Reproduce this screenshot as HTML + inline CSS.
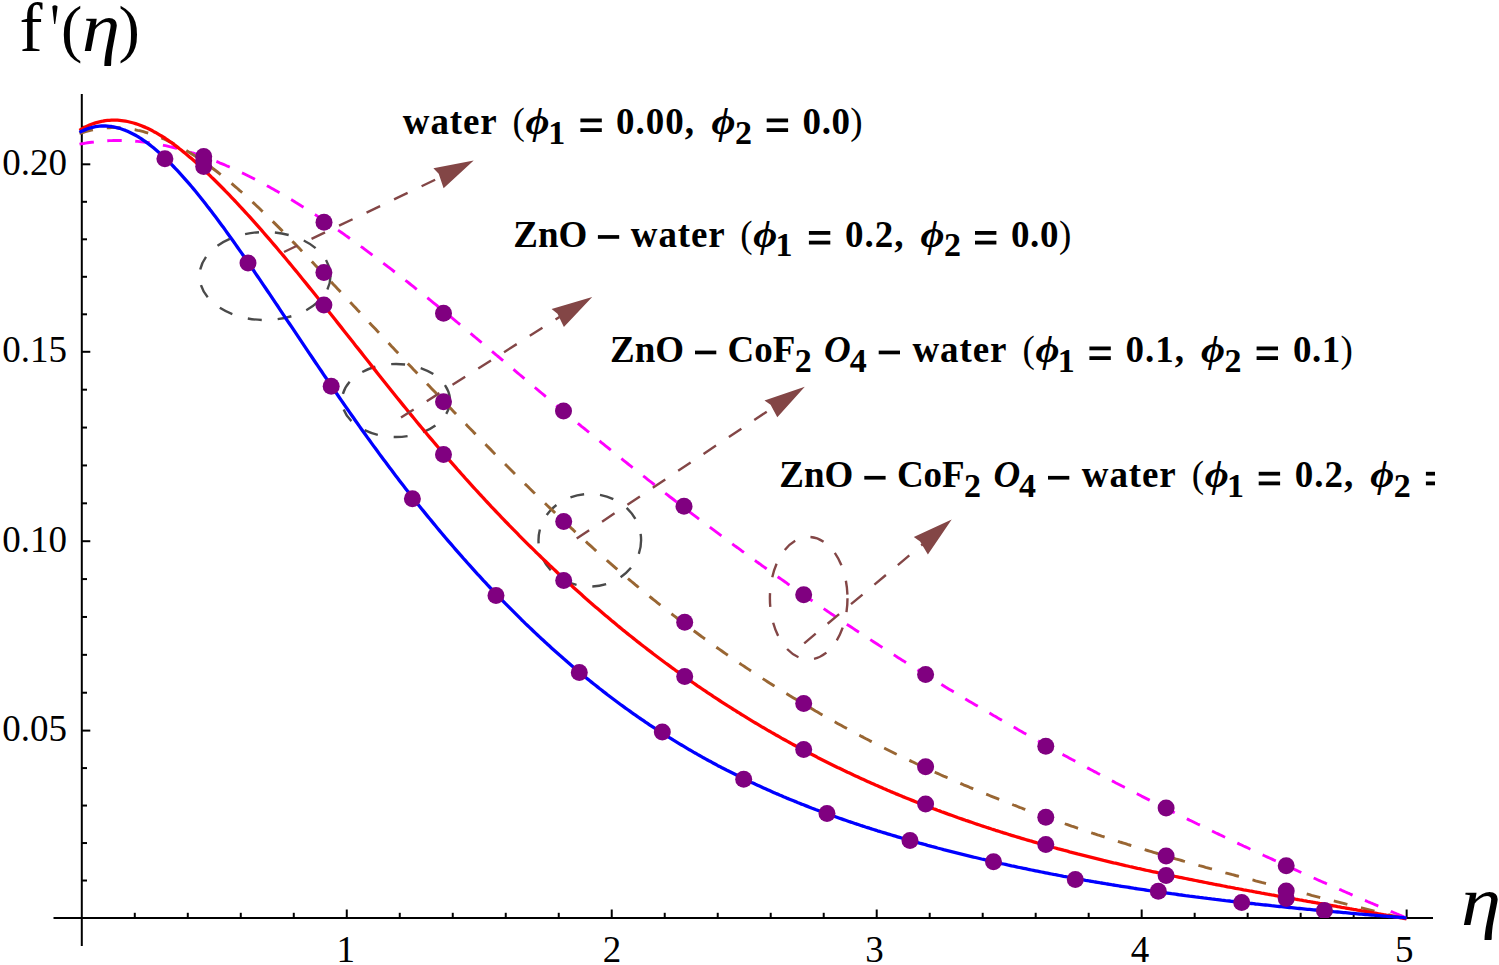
<!DOCTYPE html>
<html><head><meta charset="utf-8"><title>f'(eta) plot</title>
<style>html,body{margin:0;padding:0;background:#fff;overflow:hidden}svg{display:block}text{font-family:"Liberation Serif",serif}</style>
</head><body>
<svg width="1499" height="965" viewBox="0 0 1499 965">
<rect width="1499" height="965" fill="#fff"/>
<g stroke="#000" stroke-width="2" fill="none">
<line x1="81.8" y1="94" x2="81.8" y2="946"/>
<line x1="53.5" y1="918" x2="1433" y2="918"/>
<line x1="134.79" y1="918" x2="134.79" y2="912.80"/>
<line x1="187.79" y1="918" x2="187.79" y2="912.80"/>
<line x1="240.78" y1="918" x2="240.78" y2="912.80"/>
<line x1="293.78" y1="918" x2="293.78" y2="912.80"/>
<line x1="346.77" y1="918" x2="346.77" y2="909.50"/>
<line x1="399.76" y1="918" x2="399.76" y2="912.80"/>
<line x1="452.76" y1="918" x2="452.76" y2="912.80"/>
<line x1="505.75" y1="918" x2="505.75" y2="912.80"/>
<line x1="558.75" y1="918" x2="558.75" y2="912.80"/>
<line x1="611.74" y1="918" x2="611.74" y2="909.50"/>
<line x1="664.73" y1="918" x2="664.73" y2="912.80"/>
<line x1="717.73" y1="918" x2="717.73" y2="912.80"/>
<line x1="770.72" y1="918" x2="770.72" y2="912.80"/>
<line x1="823.72" y1="918" x2="823.72" y2="912.80"/>
<line x1="876.71" y1="918" x2="876.71" y2="909.50"/>
<line x1="929.70" y1="918" x2="929.70" y2="912.80"/>
<line x1="982.70" y1="918" x2="982.70" y2="912.80"/>
<line x1="1035.69" y1="918" x2="1035.69" y2="912.80"/>
<line x1="1088.69" y1="918" x2="1088.69" y2="912.80"/>
<line x1="1141.68" y1="918" x2="1141.68" y2="909.50"/>
<line x1="1194.67" y1="918" x2="1194.67" y2="912.80"/>
<line x1="1247.67" y1="918" x2="1247.67" y2="912.80"/>
<line x1="1300.66" y1="918" x2="1300.66" y2="912.80"/>
<line x1="1353.66" y1="918" x2="1353.66" y2="912.80"/>
<line x1="1406.65" y1="918" x2="1406.65" y2="909.50"/>
<line x1="81.8" y1="880.52" x2="87.00" y2="880.52"/>
<line x1="81.8" y1="843.04" x2="87.00" y2="843.04"/>
<line x1="81.8" y1="805.56" x2="87.00" y2="805.56"/>
<line x1="81.8" y1="768.08" x2="87.00" y2="768.08"/>
<line x1="81.8" y1="730.60" x2="90.30" y2="730.60"/>
<line x1="81.8" y1="692.72" x2="87.00" y2="692.72"/>
<line x1="81.8" y1="654.84" x2="87.00" y2="654.84"/>
<line x1="81.8" y1="616.96" x2="87.00" y2="616.96"/>
<line x1="81.8" y1="579.08" x2="87.00" y2="579.08"/>
<line x1="81.8" y1="541.20" x2="90.30" y2="541.20"/>
<line x1="81.8" y1="503.32" x2="87.00" y2="503.32"/>
<line x1="81.8" y1="465.44" x2="87.00" y2="465.44"/>
<line x1="81.8" y1="427.56" x2="87.00" y2="427.56"/>
<line x1="81.8" y1="389.68" x2="87.00" y2="389.68"/>
<line x1="81.8" y1="351.80" x2="90.30" y2="351.80"/>
<line x1="81.8" y1="314.30" x2="87.00" y2="314.30"/>
<line x1="81.8" y1="276.80" x2="87.00" y2="276.80"/>
<line x1="81.8" y1="239.30" x2="87.00" y2="239.30"/>
<line x1="81.8" y1="201.80" x2="87.00" y2="201.80"/>
<line x1="81.8" y1="164.30" x2="90.30" y2="164.30"/>
<line x1="81.8" y1="126.80" x2="87.00" y2="126.80"/>
</g>
<g font-family="Liberation Serif" font-size="37" fill="#000">
<text x="67" y="740.9" text-anchor="end">0.05</text>
<text x="67" y="551.5" text-anchor="end">0.10</text>
<text x="67" y="362.1" text-anchor="end">0.15</text>
<text x="67" y="174.6" text-anchor="end">0.20</text>
<text x="345.7" y="962" text-anchor="middle">1</text>
<text x="611.9" y="962" text-anchor="middle">2</text>
<text x="874.6" y="962" text-anchor="middle">3</text>
<text x="1139.9" y="962" text-anchor="middle">4</text>
<text x="1404.3" y="962" text-anchor="middle">5</text>
</g>
<g font-family="Liberation Serif" fill="#000">
<text x="19.5" y="51" font-size="69">f</text>
<path d="M52.3,6.5 Q54.8,3.8 57.6,6.5 L55.2,24 L54.2,24 Z" fill="#000"/>
<text x="61" y="50" font-size="64">(</text>
<text transform="translate(82,51) scale(1.11,1)" font-size="69" font-style="italic">&#x3b7;</text>
<text x="118.5" y="50" font-size="64">)</text>
<text transform="translate(1461,925) scale(1.17,1)" font-size="69" font-style="italic">&#x3b7;</text>
</g>
<g fill="none" stroke-width="2.4" stroke-dasharray="14 16">
<ellipse cx="265" cy="276" rx="65.5" ry="44" stroke="#4a4a4a"/>
<ellipse cx="396" cy="400.5" rx="54" ry="36.5" stroke="#4a4a4a"/>
<ellipse cx="589.8" cy="540.2" rx="51.3" ry="46.3" stroke="#4a4a4a"/>
<ellipse cx="808.7" cy="598.2" rx="38.8" ry="61.2" stroke="#834646"/>
</g>
<g fill="none" stroke-width="3.3" stroke-linejoin="round">
<path d="M79.5,144.2 L81.5,143.8 L83.5,143.5 L85.5,143.1 L87.5,142.8 L89.5,142.5 L91.5,142.2 L93.5,142.0 L95.5,141.7 L97.5,141.5 L99.5,141.3 L101.5,141.1 L103.5,141.0 L105.5,140.8 L107.5,140.7 L109.5,140.6 L111.5,140.6 L113.5,140.5 L115.5,140.5 L117.5,140.5 L119.5,140.5 L121.5,140.5 L123.5,140.5 L125.5,140.6 L127.5,140.7 L129.5,140.8 L131.5,140.9 L133.5,141.0 L135.5,141.2 L137.5,141.4 L139.5,141.6 L141.5,141.8 L143.5,142.0 L145.5,142.3 L147.5,142.5 L149.5,142.8 L151.5,143.1 L153.5,143.4 L155.5,143.8 L157.5,144.1 L159.5,144.5 L161.5,144.9 L163.5,145.3 L165.5,145.7 L167.5,146.1 L169.5,146.6 L171.5,147.0 L173.5,147.5 L175.5,148.0 L177.5,148.5 L179.5,149.1 L181.5,149.6 L183.5,150.2 L185.5,150.7 L187.5,151.3 L189.5,151.9 L191.5,152.6 L193.5,153.2 L195.5,153.8 L197.5,154.5 L199.5,155.2 L201.5,155.9 L203.5,156.6 L205.5,157.3 L207.5,158.1 L209.5,158.8 L211.5,159.6 L213.5,160.3 L215.5,161.1 L217.5,161.9 L219.5,162.8 L221.5,163.6 L223.5,164.4 L225.5,165.3 L227.5,166.2 L229.5,167.0 L231.5,167.9 L233.5,168.8 L235.5,169.8 L237.5,170.7 L239.5,171.6 L241.5,172.6 L243.5,173.5 L245.5,174.5 L247.5,175.5 L249.5,176.5 L251.5,177.5 L253.5,178.5 L255.5,179.6 L257.5,180.6 L259.5,181.7 L261.5,182.7 L263.5,183.8 L265.5,184.9 L267.5,186.0 L269.5,187.1 L271.5,188.2 L273.5,189.3 L275.5,190.4 L277.5,191.6 L279.5,192.7 L281.5,193.9 L283.5,195.1 L285.5,196.2 L287.5,197.4 L289.5,198.6 L291.5,199.8 L293.5,201.0 L295.5,202.3 L297.5,203.5 L299.5,204.7 L301.5,206.0 L303.5,207.2 L305.5,208.5 L307.5,209.8 L309.5,211.0 L311.5,212.3 L313.5,213.6 L315.5,214.9 L317.5,216.2 L319.5,217.6 L321.5,218.9 L323.5,220.2 L325.5,221.6 L327.5,222.9 L329.5,224.3 L331.5,225.6 L333.5,227.0 L335.5,228.4 L337.5,229.8 L339.5,231.1 L341.5,232.5 L343.5,233.9 L345.5,235.4 L347.5,236.8 L349.5,238.2 L351.5,239.6 L353.5,241.1 L355.5,242.5 L357.5,244.0 L359.5,245.4 L361.5,246.9 L363.5,248.3 L365.5,249.8 L367.5,251.3 L369.5,252.8 L371.5,254.3 L373.5,255.8 L375.5,257.3 L377.5,258.8 L379.5,260.3 L381.5,261.8 L383.5,263.3 L385.5,264.8 L387.5,266.4 L389.5,267.9 L391.5,269.4 L393.5,271.0 L395.5,272.5 L397.5,274.1 L399.5,275.7 L401.5,277.2 L403.5,278.8 L405.5,280.4 L407.5,281.9 L409.5,283.5 L411.5,285.1 L413.5,286.7 L415.5,288.3 L417.5,289.9 L419.5,291.5 L421.5,293.1 L423.5,294.7 L425.5,296.3 L427.5,297.9 L429.5,299.5 L431.5,301.2 L433.5,302.8 L435.5,304.4 L437.5,306.0 L439.5,307.7 L441.5,309.3 L443.5,311.0 L445.5,312.6 L447.5,314.2 L449.5,315.9 L451.5,317.5 L453.5,319.2 L455.5,320.8 L457.5,322.5 L459.5,324.2 L461.5,325.8 L463.5,327.5 L465.5,329.1 L467.5,330.8 L469.5,332.5 L471.5,334.1 L473.5,335.8 L475.5,337.5 L477.5,339.2 L479.5,340.8 L481.5,342.5 L483.5,344.2 L485.5,345.9 L487.5,347.5 L489.5,349.2 L491.5,350.9 L493.5,352.6 L495.5,354.3 L497.5,356.0 L499.5,357.6 L501.5,359.3 L503.5,361.0 L505.5,362.7 L507.5,364.4 L509.5,366.1 L511.5,367.8 L513.5,369.4 L515.5,371.1 L517.5,372.8 L519.5,374.5 L521.5,376.2 L523.5,377.9 L525.5,379.6 L527.5,381.2 L529.5,382.9 L531.5,384.6 L533.5,386.3 L535.5,388.0 L537.5,389.7 L539.5,391.3 L541.5,393.0 L543.5,394.7 L545.5,396.4 L547.5,398.0 L549.5,399.7 L551.5,401.4 L553.5,403.1 L555.5,404.7 L557.5,406.4 L559.5,408.1 L561.5,409.7 L563.5,411.4 L565.5,413.0 L567.5,414.7 L569.5,416.4 L571.5,418.0 L573.5,419.7 L575.5,421.3 L577.5,423.0 L579.5,424.6 L581.5,426.3 L583.5,427.9 L585.5,429.5 L587.5,431.2 L589.5,432.8 L591.5,434.4 L593.5,436.1 L595.5,437.7 L597.5,439.3 L599.5,440.9 L601.5,442.6 L603.5,444.2 L605.5,445.8 L607.5,447.4 L609.5,449.0 L611.5,450.7 L613.5,452.3 L615.5,453.9 L617.5,455.5 L619.5,457.1 L621.5,458.7 L623.5,460.3 L625.5,461.9 L627.5,463.5 L629.5,465.1 L631.5,466.7 L633.5,468.2 L635.5,469.8 L637.5,471.4 L639.5,473.0 L641.5,474.6 L643.5,476.2 L645.5,477.7 L647.5,479.3 L649.5,480.9 L651.5,482.4 L653.5,484.0 L655.5,485.6 L657.5,487.1 L659.5,488.7 L661.5,490.3 L663.5,491.8 L665.5,493.4 L667.5,494.9 L669.5,496.5 L671.5,498.0 L673.5,499.5 L675.5,501.1 L677.5,502.6 L679.5,504.2 L681.5,505.7 L683.5,507.2 L685.5,508.8 L687.5,510.3 L689.5,511.8 L691.5,513.3 L693.5,514.9 L695.5,516.4 L697.5,517.9 L699.5,519.4 L701.5,520.9 L703.5,522.4 L705.5,523.9 L707.5,525.4 L709.5,526.9 L711.5,528.4 L713.5,529.9 L715.5,531.4 L717.5,532.9 L719.5,534.4 L721.5,535.9 L723.5,537.4 L725.5,538.9 L727.5,540.4 L729.5,541.8 L731.5,543.3 L733.5,544.8 L735.5,546.3 L737.5,547.7 L739.5,549.2 L741.5,550.7 L743.5,552.1 L745.5,553.6 L747.5,555.0 L749.5,556.5 L751.5,557.9 L753.5,559.4 L755.5,560.8 L757.5,562.3 L759.5,563.7 L761.5,565.2 L763.5,566.6 L765.5,568.0 L767.5,569.5 L769.5,570.9 L771.5,572.3 L773.5,573.7 L775.5,575.2 L777.5,576.6 L779.5,578.0 L781.5,579.4 L783.5,580.8 L785.5,582.2 L787.5,583.7 L789.5,585.1 L791.5,586.5 L793.5,587.9 L795.5,589.3 L797.5,590.6 L799.5,592.0 L801.5,593.4 L803.5,594.8 L805.5,596.2 L807.5,597.6 L809.5,599.0 L811.5,600.3 L813.5,601.7 L815.5,603.1 L817.5,604.4 L819.5,605.8 L821.5,607.2 L823.5,608.5 L825.5,609.9 L827.5,611.3 L829.5,612.6 L831.5,614.0 L833.5,615.3 L835.5,616.6 L837.5,618.0 L839.5,619.3 L841.5,620.7 L843.5,622.0 L845.5,623.3 L847.5,624.7 L849.5,626.0 L851.5,627.3 L853.5,628.6 L855.5,630.0 L857.5,631.3 L859.5,632.6 L861.5,633.9 L863.5,635.2 L865.5,636.5 L867.5,637.8 L869.5,639.1 L871.5,640.4 L873.5,641.7 L875.5,643.0 L877.5,644.3 L879.5,645.6 L881.5,646.9 L883.5,648.2 L885.5,649.5 L887.5,650.8 L889.5,652.1 L891.5,653.3 L893.5,654.6 L895.5,655.9 L897.5,657.2 L899.5,658.4 L901.5,659.7 L903.5,660.9 L905.5,662.2 L907.5,663.5 L909.5,664.7 L911.5,666.0 L913.5,667.2 L915.5,668.5 L917.5,669.7 L919.5,671.0 L921.5,672.2 L923.5,673.5 L925.5,674.7 L927.5,675.9 L929.5,677.2 L931.5,678.4 L933.5,679.6 L935.5,680.9 L937.5,682.1 L939.5,683.3 L941.5,684.5 L943.5,685.7 L945.5,687.0 L947.5,688.2 L949.5,689.4 L951.5,690.6 L953.5,691.8 L955.5,693.0 L957.5,694.2 L959.5,695.4 L961.5,696.6 L963.5,697.8 L965.5,699.0 L967.5,700.2 L969.5,701.4 L971.5,702.6 L973.5,703.7 L975.5,704.9 L977.5,706.1 L979.5,707.3 L981.5,708.5 L983.5,709.6 L985.5,710.8 L987.5,712.0 L989.5,713.1 L991.5,714.3 L993.5,715.5 L995.5,716.6 L997.5,717.8 L999.5,718.9 L1001.5,720.1 L1003.5,721.3 L1005.5,722.4 L1007.5,723.6 L1009.5,724.7 L1011.5,725.8 L1013.5,727.0 L1015.5,728.1 L1017.5,729.3 L1019.5,730.4 L1021.5,731.5 L1023.5,732.7 L1025.5,733.8 L1027.5,734.9 L1029.5,736.1 L1031.5,737.2 L1033.5,738.3 L1035.5,739.4 L1037.5,740.5 L1039.5,741.7 L1041.5,742.8 L1043.5,743.9 L1045.5,745.0 L1047.5,746.1 L1049.5,747.2 L1051.5,748.3 L1053.5,749.4 L1055.5,750.5 L1057.5,751.6 L1059.5,752.7 L1061.5,753.8 L1063.5,754.9 L1065.5,756.0 L1067.5,757.1 L1069.5,758.2 L1071.5,759.3 L1073.5,760.3 L1075.5,761.4 L1077.5,762.5 L1079.5,763.6 L1081.5,764.7 L1083.5,765.7 L1085.5,766.8 L1087.5,767.9 L1089.5,768.9 L1091.5,770.0 L1093.5,771.1 L1095.5,772.1 L1097.5,773.2 L1099.5,774.2 L1101.5,775.3 L1103.5,776.4 L1105.5,777.4 L1107.5,778.5 L1109.5,779.5 L1111.5,780.6 L1113.5,781.6 L1115.5,782.7 L1117.5,783.7 L1119.5,784.7 L1121.5,785.8 L1123.5,786.8 L1125.5,787.8 L1127.5,788.9 L1129.5,789.9 L1131.5,790.9 L1133.5,792.0 L1135.5,793.0 L1137.5,794.0 L1139.5,795.0 L1141.5,796.1 L1143.5,797.1 L1145.5,798.1 L1147.5,799.1 L1149.5,800.1 L1151.5,801.1 L1153.5,802.2 L1155.5,803.2 L1157.5,804.2 L1159.5,805.2 L1161.5,806.2 L1163.5,807.2 L1165.5,808.2 L1167.5,809.2 L1169.5,810.2 L1171.5,811.2 L1173.5,812.2 L1175.5,813.2 L1177.5,814.2 L1179.5,815.1 L1181.5,816.1 L1183.5,817.1 L1185.5,818.1 L1187.5,819.1 L1189.5,820.1 L1191.5,821.0 L1193.5,822.0 L1195.5,823.0 L1197.5,824.0 L1199.5,824.9 L1201.5,825.9 L1203.5,826.9 L1205.5,827.9 L1207.5,828.8 L1209.5,829.8 L1211.5,830.7 L1213.5,831.7 L1215.5,832.7 L1217.5,833.6 L1219.5,834.6 L1221.5,835.5 L1223.5,836.5 L1225.5,837.4 L1227.5,838.4 L1229.5,839.3 L1231.5,840.3 L1233.5,841.2 L1235.5,842.2 L1237.5,843.1 L1239.5,844.1 L1241.5,845.0 L1243.5,846.0 L1245.5,846.9 L1247.5,847.8 L1249.5,848.8 L1251.5,849.7 L1253.5,850.6 L1255.5,851.6 L1257.5,852.5 L1259.5,853.4 L1261.5,854.3 L1263.5,855.3 L1265.5,856.2 L1267.5,857.1 L1269.5,858.0 L1271.5,858.9 L1273.5,859.9 L1275.5,860.8 L1277.5,861.7 L1279.5,862.6 L1281.5,863.5 L1283.5,864.4 L1285.5,865.3 L1287.5,866.2 L1289.5,867.2 L1291.5,868.1 L1293.5,869.0 L1295.5,869.9 L1297.5,870.8 L1299.5,871.7 L1301.5,872.6 L1303.5,873.5 L1305.5,874.4 L1307.5,875.2 L1309.5,876.1 L1311.5,877.0 L1313.5,877.9 L1315.5,878.8 L1317.5,879.7 L1319.5,880.6 L1321.5,881.5 L1323.5,882.4 L1325.5,883.2 L1327.5,884.1 L1329.5,885.0 L1331.5,885.9 L1333.5,886.8 L1335.5,887.6 L1337.5,888.5 L1339.5,889.4 L1341.5,890.2 L1343.5,891.1 L1345.5,892.0 L1347.5,892.9 L1349.5,893.7 L1351.5,894.6 L1353.5,895.5 L1355.5,896.3 L1357.5,897.2 L1359.5,898.0 L1361.5,898.9 L1363.5,899.8 L1365.5,900.6 L1367.5,901.5 L1369.5,902.3 L1371.5,903.2 L1373.5,904.0 L1375.5,904.9 L1377.5,905.7 L1379.5,906.6 L1381.5,907.4 L1383.5,908.3 L1385.5,909.1 L1387.5,910.0 L1389.5,910.8 L1391.5,911.7 L1393.5,912.5 L1395.5,913.3 L1397.5,914.2 L1399.5,915.0 L1401.5,915.9 L1403.5,916.7 L1405.5,917.5 L1406.5,918.0" stroke="#ff00ff" stroke-width="2.9" stroke-dasharray="14.5 13.5"/>
<path d="M79.5,133.7 L81.5,133.0 L83.5,132.3 L85.5,131.7 L87.5,131.1 L89.5,130.6 L91.5,130.1 L93.5,129.7 L95.5,129.3 L97.5,128.9 L99.5,128.6 L101.5,128.4 L103.5,128.1 L105.5,127.9 L107.5,127.8 L109.5,127.7 L111.5,127.6 L113.5,127.6 L115.5,127.6 L117.5,127.7 L119.5,127.8 L121.5,127.9 L123.5,128.1 L125.5,128.3 L127.5,128.5 L129.5,128.8 L131.5,129.1 L133.5,129.5 L135.5,129.8 L137.5,130.3 L139.5,130.7 L141.5,131.2 L143.5,131.7 L145.5,132.3 L147.5,132.9 L149.5,133.5 L151.5,134.2 L153.5,134.9 L155.5,135.6 L157.5,136.4 L159.5,137.2 L161.5,138.0 L163.5,138.8 L165.5,139.7 L167.5,140.6 L169.5,141.6 L171.5,142.5 L173.5,143.5 L175.5,144.6 L177.5,145.6 L179.5,146.7 L181.5,147.8 L183.5,148.9 L185.5,150.1 L187.5,151.3 L189.5,152.5 L191.5,153.7 L193.5,155.0 L195.5,156.3 L197.5,157.6 L199.5,159.0 L201.5,160.3 L203.5,161.7 L205.5,163.1 L207.5,164.6 L209.5,166.0 L211.5,167.5 L213.5,169.0 L215.5,170.5 L217.5,172.0 L219.5,173.6 L221.5,175.2 L223.5,176.8 L225.5,178.4 L227.5,180.0 L229.5,181.7 L231.5,183.4 L233.5,185.1 L235.5,186.8 L237.5,188.5 L239.5,190.3 L241.5,192.0 L243.5,193.8 L245.5,195.6 L247.5,197.4 L249.5,199.2 L251.5,201.1 L253.5,202.9 L255.5,204.8 L257.5,206.7 L259.5,208.5 L261.5,210.5 L263.5,212.4 L265.5,214.3 L267.5,216.2 L269.5,218.2 L271.5,220.2 L273.5,222.1 L275.5,224.1 L277.5,226.1 L279.5,228.1 L281.5,230.1 L283.5,232.1 L285.5,234.2 L287.5,236.2 L289.5,238.3 L291.5,240.3 L293.5,242.4 L295.5,244.4 L297.5,246.5 L299.5,248.6 L301.5,250.7 L303.5,252.8 L305.5,254.9 L307.5,257.0 L309.5,259.1 L311.5,261.2 L313.5,263.3 L315.5,265.4 L317.5,267.5 L319.5,269.6 L321.5,271.7 L323.5,273.8 L325.5,276.0 L327.5,278.1 L329.5,280.2 L331.5,282.3 L333.5,284.5 L335.5,286.6 L337.5,288.7 L339.5,290.8 L341.5,293.0 L343.5,295.1 L345.5,297.2 L347.5,299.3 L349.5,301.5 L351.5,303.6 L353.5,305.7 L355.5,307.8 L357.5,310.0 L359.5,312.1 L361.5,314.2 L363.5,316.4 L365.5,318.5 L367.5,320.6 L369.5,322.8 L371.5,324.9 L373.5,327.0 L375.5,329.1 L377.5,331.3 L379.5,333.4 L381.5,335.5 L383.5,337.7 L385.5,339.8 L387.5,341.9 L389.5,344.0 L391.5,346.2 L393.5,348.3 L395.5,350.4 L397.5,352.5 L399.5,354.6 L401.5,356.8 L403.5,358.9 L405.5,361.0 L407.5,363.1 L409.5,365.2 L411.5,367.3 L413.5,369.5 L415.5,371.6 L417.5,373.7 L419.5,375.8 L421.5,377.9 L423.5,380.0 L425.5,382.1 L427.5,384.2 L429.5,386.3 L431.5,388.4 L433.5,390.5 L435.5,392.6 L437.5,394.7 L439.5,396.8 L441.5,398.9 L443.5,401.0 L445.5,403.1 L447.5,405.2 L449.5,407.2 L451.5,409.3 L453.5,411.4 L455.5,413.5 L457.5,415.6 L459.5,417.6 L461.5,419.7 L463.5,421.8 L465.5,423.8 L467.5,425.9 L469.5,428.0 L471.5,430.0 L473.5,432.1 L475.5,434.1 L477.5,436.2 L479.5,438.2 L481.5,440.3 L483.5,442.3 L485.5,444.3 L487.5,446.4 L489.5,448.4 L491.5,450.4 L493.5,452.5 L495.5,454.5 L497.5,456.5 L499.5,458.5 L501.5,460.5 L503.5,462.5 L505.5,464.5 L507.5,466.5 L509.5,468.5 L511.5,470.5 L513.5,472.5 L515.5,474.5 L517.5,476.5 L519.5,478.5 L521.5,480.4 L523.5,482.4 L525.5,484.4 L527.5,486.3 L529.5,488.3 L531.5,490.2 L533.5,492.2 L535.5,494.1 L537.5,496.1 L539.5,498.0 L541.5,499.9 L543.5,501.9 L545.5,503.8 L547.5,505.7 L549.5,507.6 L551.5,509.5 L553.5,511.4 L555.5,513.3 L557.5,515.2 L559.5,517.1 L561.5,519.0 L563.5,520.9 L565.5,522.8 L567.5,524.6 L569.5,526.5 L571.5,528.4 L573.5,530.2 L575.5,532.1 L577.5,533.9 L579.5,535.8 L581.5,537.6 L583.5,539.4 L585.5,541.2 L587.5,543.1 L589.5,544.9 L591.5,546.7 L593.5,548.5 L595.5,550.3 L597.5,552.1 L599.5,553.8 L601.5,555.6 L603.5,557.4 L605.5,559.1 L607.5,560.9 L609.5,562.7 L611.5,564.4 L613.5,566.1 L615.5,567.9 L617.5,569.6 L619.5,571.3 L621.5,573.0 L623.5,574.8 L625.5,576.5 L627.5,578.1 L629.5,579.8 L631.5,581.5 L633.5,583.2 L635.5,584.9 L637.5,586.5 L639.5,588.2 L641.5,589.8 L643.5,591.5 L645.5,593.1 L647.5,594.7 L649.5,596.4 L651.5,598.0 L653.5,599.6 L655.5,601.2 L657.5,602.8 L659.5,604.4 L661.5,606.0 L663.5,607.6 L665.5,609.1 L667.5,610.7 L669.5,612.3 L671.5,613.8 L673.5,615.4 L675.5,616.9 L677.5,618.5 L679.5,620.0 L681.5,621.5 L683.5,623.0 L685.5,624.6 L687.5,626.1 L689.5,627.6 L691.5,629.1 L693.5,630.6 L695.5,632.0 L697.5,633.5 L699.5,635.0 L701.5,636.5 L703.5,637.9 L705.5,639.4 L707.5,640.8 L709.5,642.3 L711.5,643.7 L713.5,645.1 L715.5,646.6 L717.5,648.0 L719.5,649.4 L721.5,650.8 L723.5,652.2 L725.5,653.6 L727.5,655.0 L729.5,656.4 L731.5,657.8 L733.5,659.1 L735.5,660.5 L737.5,661.9 L739.5,663.2 L741.5,664.6 L743.5,665.9 L745.5,667.3 L747.5,668.6 L749.5,669.9 L751.5,671.3 L753.5,672.6 L755.5,673.9 L757.5,675.2 L759.5,676.5 L761.5,677.8 L763.5,679.1 L765.5,680.4 L767.5,681.7 L769.5,683.0 L771.5,684.2 L773.5,685.5 L775.5,686.8 L777.5,688.0 L779.5,689.3 L781.5,690.5 L783.5,691.8 L785.5,693.0 L787.5,694.2 L789.5,695.5 L791.5,696.7 L793.5,697.9 L795.5,699.1 L797.5,700.3 L799.5,701.5 L801.5,702.7 L803.5,703.9 L805.5,705.1 L807.5,706.3 L809.5,707.5 L811.5,708.6 L813.5,709.8 L815.5,711.0 L817.5,712.1 L819.5,713.3 L821.5,714.4 L823.5,715.6 L825.5,716.7 L827.5,717.8 L829.5,719.0 L831.5,720.1 L833.5,721.2 L835.5,722.3 L837.5,723.4 L839.5,724.5 L841.5,725.6 L843.5,726.7 L845.5,727.8 L847.5,728.9 L849.5,730.0 L851.5,731.1 L853.5,732.1 L855.5,733.2 L857.5,734.3 L859.5,735.3 L861.5,736.4 L863.5,737.4 L865.5,738.5 L867.5,739.5 L869.5,740.6 L871.5,741.6 L873.5,742.6 L875.5,743.7 L877.5,744.7 L879.5,745.7 L881.5,746.7 L883.5,747.7 L885.5,748.7 L887.5,749.7 L889.5,750.7 L891.5,751.7 L893.5,752.7 L895.5,753.7 L897.5,754.6 L899.5,755.6 L901.5,756.6 L903.5,757.6 L905.5,758.5 L907.5,759.5 L909.5,760.4 L911.5,761.4 L913.5,762.3 L915.5,763.3 L917.5,764.2 L919.5,765.1 L921.5,766.1 L923.5,767.0 L925.5,767.9 L927.5,768.8 L929.5,769.8 L931.5,770.7 L933.5,771.6 L935.5,772.5 L937.5,773.4 L939.5,774.3 L941.5,775.2 L943.5,776.1 L945.5,776.9 L947.5,777.8 L949.5,778.7 L951.5,779.6 L953.5,780.5 L955.5,781.3 L957.5,782.2 L959.5,783.0 L961.5,783.9 L963.5,784.8 L965.5,785.6 L967.5,786.4 L969.5,787.3 L971.5,788.1 L973.5,789.0 L975.5,789.8 L977.5,790.6 L979.5,791.5 L981.5,792.3 L983.5,793.1 L985.5,793.9 L987.5,794.7 L989.5,795.5 L991.5,796.3 L993.5,797.1 L995.5,797.9 L997.5,798.7 L999.5,799.5 L1001.5,800.3 L1003.5,801.1 L1005.5,801.9 L1007.5,802.7 L1009.5,803.4 L1011.5,804.2 L1013.5,805.0 L1015.5,805.7 L1017.5,806.5 L1019.5,807.3 L1021.5,808.0 L1023.5,808.8 L1025.5,809.5 L1027.5,810.3 L1029.5,811.0 L1031.5,811.8 L1033.5,812.5 L1035.5,813.3 L1037.5,814.0 L1039.5,814.7 L1041.5,815.4 L1043.5,816.2 L1045.5,816.9 L1047.5,817.6 L1049.5,818.3 L1051.5,819.1 L1053.5,819.8 L1055.5,820.5 L1057.5,821.2 L1059.5,821.9 L1061.5,822.6 L1063.5,823.3 L1065.5,824.0 L1067.5,824.7 L1069.5,825.4 L1071.5,826.1 L1073.5,826.7 L1075.5,827.4 L1077.5,828.1 L1079.5,828.8 L1081.5,829.5 L1083.5,830.1 L1085.5,830.8 L1087.5,831.5 L1089.5,832.1 L1091.5,832.8 L1093.5,833.5 L1095.5,834.1 L1097.5,834.8 L1099.5,835.4 L1101.5,836.1 L1103.5,836.7 L1105.5,837.4 L1107.5,838.0 L1109.5,838.7 L1111.5,839.3 L1113.5,839.9 L1115.5,840.6 L1117.5,841.2 L1119.5,841.9 L1121.5,842.5 L1123.5,843.1 L1125.5,843.7 L1127.5,844.4 L1129.5,845.0 L1131.5,845.6 L1133.5,846.2 L1135.5,846.8 L1137.5,847.4 L1139.5,848.1 L1141.5,848.7 L1143.5,849.3 L1145.5,849.9 L1147.5,850.5 L1149.5,851.1 L1151.5,851.7 L1153.5,852.3 L1155.5,852.9 L1157.5,853.5 L1159.5,854.1 L1161.5,854.7 L1163.5,855.3 L1165.5,855.8 L1167.5,856.4 L1169.5,857.0 L1171.5,857.6 L1173.5,858.2 L1175.5,858.8 L1177.5,859.3 L1179.5,859.9 L1181.5,860.5 L1183.5,861.1 L1185.5,861.6 L1187.5,862.2 L1189.5,862.8 L1191.5,863.3 L1193.5,863.9 L1195.5,864.5 L1197.5,865.0 L1199.5,865.6 L1201.5,866.1 L1203.5,866.7 L1205.5,867.3 L1207.5,867.8 L1209.5,868.4 L1211.5,868.9 L1213.5,869.5 L1215.5,870.0 L1217.5,870.6 L1219.5,871.1 L1221.5,871.7 L1223.5,872.2 L1225.5,872.8 L1227.5,873.3 L1229.5,873.8 L1231.5,874.4 L1233.5,874.9 L1235.5,875.5 L1237.5,876.0 L1239.5,876.5 L1241.5,877.1 L1243.5,877.6 L1245.5,878.1 L1247.5,878.7 L1249.5,879.2 L1251.5,879.7 L1253.5,880.2 L1255.5,880.8 L1257.5,881.3 L1259.5,881.8 L1261.5,882.4 L1263.5,882.9 L1265.5,883.4 L1267.5,883.9 L1269.5,884.4 L1271.5,885.0 L1273.5,885.5 L1275.5,886.0 L1277.5,886.5 L1279.5,887.0 L1281.5,887.6 L1283.5,888.1 L1285.5,888.6 L1287.5,889.1 L1289.5,889.6 L1291.5,890.1 L1293.5,890.7 L1295.5,891.2 L1297.5,891.7 L1299.5,892.2 L1301.5,892.7 L1303.5,893.2 L1305.5,893.7 L1307.5,894.2 L1309.5,894.7 L1311.5,895.3 L1313.5,895.8 L1315.5,896.3 L1317.5,896.8 L1319.5,897.3 L1321.5,897.8 L1323.5,898.3 L1325.5,898.8 L1327.5,899.3 L1329.5,899.8 L1331.5,900.3 L1333.5,900.8 L1335.5,901.3 L1337.5,901.8 L1339.5,902.3 L1341.5,902.8 L1343.5,903.3 L1345.5,903.9 L1347.5,904.4 L1349.5,904.9 L1351.5,905.4 L1353.5,905.9 L1355.5,906.4 L1357.5,906.9 L1359.5,907.4 L1361.5,907.9 L1363.5,908.4 L1365.5,908.9 L1367.5,909.4 L1369.5,909.9 L1371.5,910.4 L1373.5,910.9 L1375.5,911.4 L1377.5,911.9 L1379.5,912.4 L1381.5,912.9 L1383.5,913.4 L1385.5,913.9 L1387.5,914.4 L1389.5,914.9 L1391.5,915.5 L1393.5,916.0 L1395.5,916.5 L1397.5,917.0 L1399.5,917.5 L1401.5,918.0 L1403.5,918.5 L1405.5,919.0 L1406.5,919.3" stroke="#996633" stroke-width="2.9" stroke-dasharray="14 14"/>
<path d="M79.5,130.4 L81.5,129.2 L83.5,128.0 L85.5,127.0 L87.5,126.0 L89.5,125.1 L91.5,124.3 L93.5,123.6 L95.5,122.9 L97.5,122.3 L99.5,121.8 L101.5,121.4 L103.5,121.0 L105.5,120.7 L107.5,120.4 L109.5,120.3 L111.5,120.1 L113.5,120.1 L115.5,120.1 L117.5,120.2 L119.5,120.4 L121.5,120.6 L123.5,120.8 L125.5,121.1 L127.5,121.5 L129.5,122.0 L131.5,122.5 L133.5,123.0 L135.5,123.6 L137.5,124.3 L139.5,125.0 L141.5,125.8 L143.5,126.6 L145.5,127.4 L147.5,128.3 L149.5,129.3 L151.5,130.3 L153.5,131.4 L155.5,132.4 L157.5,133.6 L159.5,134.8 L161.5,136.0 L163.5,137.2 L165.5,138.5 L167.5,139.9 L169.5,141.3 L171.5,142.7 L173.5,144.1 L175.5,145.6 L177.5,147.1 L179.5,148.7 L181.5,150.2 L183.5,151.9 L185.5,153.5 L187.5,155.2 L189.5,156.9 L191.5,158.6 L193.5,160.3 L195.5,162.1 L197.5,163.9 L199.5,165.7 L201.5,167.6 L203.5,169.4 L205.5,171.3 L207.5,173.2 L209.5,175.1 L211.5,177.1 L213.5,179.0 L215.5,181.0 L217.5,183.0 L219.5,185.0 L221.5,187.0 L223.5,189.0 L225.5,191.1 L227.5,193.1 L229.5,195.2 L231.5,197.3 L233.5,199.4 L235.5,201.5 L237.5,203.7 L239.5,205.8 L241.5,208.0 L243.5,210.1 L245.5,212.3 L247.5,214.5 L249.5,216.7 L251.5,218.9 L253.5,221.2 L255.5,223.4 L257.5,225.7 L259.5,227.9 L261.5,230.2 L263.5,232.5 L265.5,234.8 L267.5,237.1 L269.5,239.4 L271.5,241.8 L273.5,244.1 L275.5,246.4 L277.5,248.8 L279.5,251.2 L281.5,253.5 L283.5,255.9 L285.5,258.3 L287.5,260.7 L289.5,263.1 L291.5,265.5 L293.5,268.0 L295.5,270.4 L297.5,272.8 L299.5,275.3 L301.5,277.7 L303.5,280.2 L305.5,282.6 L307.5,285.1 L309.5,287.6 L311.5,290.0 L313.5,292.5 L315.5,295.0 L317.5,297.5 L319.5,300.0 L321.5,302.5 L323.5,305.0 L325.5,307.5 L327.5,310.0 L329.5,312.5 L331.5,315.0 L333.5,317.5 L335.5,320.1 L337.5,322.6 L339.5,325.1 L341.5,327.6 L343.5,330.2 L345.5,332.7 L347.5,335.2 L349.5,337.8 L351.5,340.3 L353.5,342.8 L355.5,345.4 L357.5,347.9 L359.5,350.4 L361.5,352.9 L363.5,355.5 L365.5,358.0 L367.5,360.5 L369.5,363.1 L371.5,365.6 L373.5,368.1 L375.5,370.6 L377.5,373.2 L379.5,375.7 L381.5,378.2 L383.5,380.7 L385.5,383.2 L387.5,385.7 L389.5,388.2 L391.5,390.7 L393.5,393.2 L395.5,395.7 L397.5,398.2 L399.5,400.6 L401.5,403.1 L403.5,405.6 L405.5,408.0 L407.5,410.5 L409.5,412.9 L411.5,415.4 L413.5,417.8 L415.5,420.2 L417.5,422.7 L419.5,425.1 L421.5,427.5 L423.5,429.9 L425.5,432.3 L427.5,434.7 L429.5,437.1 L431.5,439.4 L433.5,441.8 L435.5,444.1 L437.5,446.5 L439.5,448.8 L441.5,451.1 L443.5,453.5 L445.5,455.8 L447.5,458.1 L449.5,460.4 L451.5,462.7 L453.5,464.9 L455.5,467.2 L457.5,469.5 L459.5,471.7 L461.5,474.0 L463.5,476.2 L465.5,478.5 L467.5,480.7 L469.5,482.9 L471.5,485.1 L473.5,487.3 L475.5,489.5 L477.5,491.7 L479.5,493.9 L481.5,496.0 L483.5,498.2 L485.5,500.4 L487.5,502.5 L489.5,504.6 L491.5,506.8 L493.5,508.9 L495.5,511.0 L497.5,513.1 L499.5,515.2 L501.5,517.3 L503.5,519.4 L505.5,521.5 L507.5,523.5 L509.5,525.6 L511.5,527.6 L513.5,529.7 L515.5,531.7 L517.5,533.7 L519.5,535.8 L521.5,537.8 L523.5,539.8 L525.5,541.8 L527.5,543.8 L529.5,545.8 L531.5,547.7 L533.5,549.7 L535.5,551.7 L537.5,553.6 L539.5,555.5 L541.5,557.5 L543.5,559.4 L545.5,561.3 L547.5,563.2 L549.5,565.2 L551.5,567.0 L553.5,568.9 L555.5,570.8 L557.5,572.7 L559.5,574.6 L561.5,576.4 L563.5,578.3 L565.5,580.1 L567.5,582.0 L569.5,583.8 L571.5,585.6 L573.5,587.4 L575.5,589.2 L577.5,591.0 L579.5,592.8 L581.5,594.6 L583.5,596.4 L585.5,598.2 L587.5,599.9 L589.5,601.7 L591.5,603.4 L593.5,605.2 L595.5,606.9 L597.5,608.6 L599.5,610.3 L601.5,612.0 L603.5,613.7 L605.5,615.4 L607.5,617.1 L609.5,618.8 L611.5,620.5 L613.5,622.1 L615.5,623.8 L617.5,625.5 L619.5,627.1 L621.5,628.7 L623.5,630.4 L625.5,632.0 L627.5,633.6 L629.5,635.2 L631.5,636.8 L633.5,638.4 L635.5,640.0 L637.5,641.6 L639.5,643.1 L641.5,644.7 L643.5,646.3 L645.5,647.8 L647.5,649.4 L649.5,650.9 L651.5,652.4 L653.5,654.0 L655.5,655.5 L657.5,657.0 L659.5,658.5 L661.5,660.0 L663.5,661.5 L665.5,663.0 L667.5,664.4 L669.5,665.9 L671.5,667.4 L673.5,668.8 L675.5,670.3 L677.5,671.7 L679.5,673.1 L681.5,674.6 L683.5,676.0 L685.5,677.4 L687.5,678.8 L689.5,680.2 L691.5,681.6 L693.5,683.0 L695.5,684.4 L697.5,685.8 L699.5,687.1 L701.5,688.5 L703.5,689.9 L705.5,691.2 L707.5,692.6 L709.5,693.9 L711.5,695.2 L713.5,696.6 L715.5,697.9 L717.5,699.2 L719.5,700.5 L721.5,701.8 L723.5,703.1 L725.5,704.4 L727.5,705.7 L729.5,706.9 L731.5,708.2 L733.5,709.5 L735.5,710.7 L737.5,712.0 L739.5,713.2 L741.5,714.5 L743.5,715.7 L745.5,716.9 L747.5,718.2 L749.5,719.4 L751.5,720.6 L753.5,721.8 L755.5,723.0 L757.5,724.2 L759.5,725.4 L761.5,726.6 L763.5,727.7 L765.5,728.9 L767.5,730.1 L769.5,731.2 L771.5,732.4 L773.5,733.5 L775.5,734.7 L777.5,735.8 L779.5,736.9 L781.5,738.1 L783.5,739.2 L785.5,740.3 L787.5,741.4 L789.5,742.5 L791.5,743.6 L793.5,744.7 L795.5,745.8 L797.5,746.9 L799.5,747.9 L801.5,749.0 L803.5,750.1 L805.5,751.1 L807.5,752.2 L809.5,753.2 L811.5,754.3 L813.5,755.3 L815.5,756.3 L817.5,757.4 L819.5,758.4 L821.5,759.4 L823.5,760.4 L825.5,761.4 L827.5,762.4 L829.5,763.4 L831.5,764.4 L833.5,765.4 L835.5,766.4 L837.5,767.4 L839.5,768.3 L841.5,769.3 L843.5,770.3 L845.5,771.2 L847.5,772.2 L849.5,773.1 L851.5,774.0 L853.5,775.0 L855.5,775.9 L857.5,776.8 L859.5,777.8 L861.5,778.7 L863.5,779.6 L865.5,780.5 L867.5,781.4 L869.5,782.3 L871.5,783.2 L873.5,784.1 L875.5,785.0 L877.5,785.8 L879.5,786.7 L881.5,787.6 L883.5,788.5 L885.5,789.3 L887.5,790.2 L889.5,791.0 L891.5,791.9 L893.5,792.7 L895.5,793.6 L897.5,794.4 L899.5,795.2 L901.5,796.0 L903.5,796.9 L905.5,797.7 L907.5,798.5 L909.5,799.3 L911.5,800.1 L913.5,800.9 L915.5,801.7 L917.5,802.5 L919.5,803.3 L921.5,804.1 L923.5,804.8 L925.5,805.6 L927.5,806.4 L929.5,807.1 L931.5,807.9 L933.5,808.7 L935.5,809.4 L937.5,810.2 L939.5,810.9 L941.5,811.7 L943.5,812.4 L945.5,813.1 L947.5,813.9 L949.5,814.6 L951.5,815.3 L953.5,816.0 L955.5,816.7 L957.5,817.5 L959.5,818.2 L961.5,818.9 L963.5,819.6 L965.5,820.3 L967.5,820.9 L969.5,821.6 L971.5,822.3 L973.5,823.0 L975.5,823.7 L977.5,824.4 L979.5,825.0 L981.5,825.7 L983.5,826.4 L985.5,827.0 L987.5,827.7 L989.5,828.3 L991.5,829.0 L993.5,829.6 L995.5,830.3 L997.5,830.9 L999.5,831.5 L1001.5,832.2 L1003.5,832.8 L1005.5,833.4 L1007.5,834.0 L1009.5,834.7 L1011.5,835.3 L1013.5,835.9 L1015.5,836.5 L1017.5,837.1 L1019.5,837.7 L1021.5,838.3 L1023.5,838.9 L1025.5,839.5 L1027.5,840.1 L1029.5,840.7 L1031.5,841.2 L1033.5,841.8 L1035.5,842.4 L1037.5,843.0 L1039.5,843.5 L1041.5,844.1 L1043.5,844.7 L1045.5,845.2 L1047.5,845.8 L1049.5,846.4 L1051.5,846.9 L1053.5,847.5 L1055.5,848.0 L1057.5,848.6 L1059.5,849.1 L1061.5,849.6 L1063.5,850.2 L1065.5,850.7 L1067.5,851.2 L1069.5,851.8 L1071.5,852.3 L1073.5,852.8 L1075.5,853.3 L1077.5,853.9 L1079.5,854.4 L1081.5,854.9 L1083.5,855.4 L1085.5,855.9 L1087.5,856.4 L1089.5,856.9 L1091.5,857.4 L1093.5,857.9 L1095.5,858.4 L1097.5,858.9 L1099.5,859.4 L1101.5,859.9 L1103.5,860.4 L1105.5,860.8 L1107.5,861.3 L1109.5,861.8 L1111.5,862.3 L1113.5,862.8 L1115.5,863.2 L1117.5,863.7 L1119.5,864.2 L1121.5,864.6 L1123.5,865.1 L1125.5,865.6 L1127.5,866.0 L1129.5,866.5 L1131.5,866.9 L1133.5,867.4 L1135.5,867.8 L1137.5,868.3 L1139.5,868.7 L1141.5,869.2 L1143.5,869.6 L1145.5,870.1 L1147.5,870.5 L1149.5,870.9 L1151.5,871.4 L1153.5,871.8 L1155.5,872.2 L1157.5,872.7 L1159.5,873.1 L1161.5,873.5 L1163.5,874.0 L1165.5,874.4 L1167.5,874.8 L1169.5,875.2 L1171.5,875.6 L1173.5,876.1 L1175.5,876.5 L1177.5,876.9 L1179.5,877.3 L1181.5,877.7 L1183.5,878.1 L1185.5,878.5 L1187.5,878.9 L1189.5,879.3 L1191.5,879.7 L1193.5,880.1 L1195.5,880.5 L1197.5,880.9 L1199.5,881.3 L1201.5,881.7 L1203.5,882.1 L1205.5,882.5 L1207.5,882.9 L1209.5,883.3 L1211.5,883.7 L1213.5,884.1 L1215.5,884.5 L1217.5,884.8 L1219.5,885.2 L1221.5,885.6 L1223.5,886.0 L1225.5,886.4 L1227.5,886.8 L1229.5,887.1 L1231.5,887.5 L1233.5,887.9 L1235.5,888.3 L1237.5,888.6 L1239.5,889.0 L1241.5,889.4 L1243.5,889.8 L1245.5,890.1 L1247.5,890.5 L1249.5,890.9 L1251.5,891.2 L1253.5,891.6 L1255.5,892.0 L1257.5,892.3 L1259.5,892.7 L1261.5,893.1 L1263.5,893.4 L1265.5,893.8 L1267.5,894.2 L1269.5,894.5 L1271.5,894.9 L1273.5,895.2 L1275.5,895.6 L1277.5,896.0 L1279.5,896.3 L1281.5,896.7 L1283.5,897.0 L1285.5,897.4 L1287.5,897.7 L1289.5,898.1 L1291.5,898.5 L1293.5,898.8 L1295.5,899.2 L1297.5,899.5 L1299.5,899.9 L1301.5,900.2 L1303.5,900.6 L1305.5,900.9 L1307.5,901.3 L1309.5,901.6 L1311.5,902.0 L1313.5,902.3 L1315.5,902.7 L1317.5,903.0 L1319.5,903.4 L1321.5,903.7 L1323.5,904.1 L1325.5,904.4 L1327.5,904.8 L1329.5,905.1 L1331.5,905.5 L1333.5,905.8 L1335.5,906.2 L1337.5,906.6 L1339.5,906.9 L1341.5,907.3 L1343.5,907.6 L1345.5,908.0 L1347.5,908.3 L1349.5,908.7 L1351.5,909.0 L1353.5,909.4 L1355.5,909.7 L1357.5,910.1 L1359.5,910.4 L1361.5,910.8 L1363.5,911.1 L1365.5,911.5 L1367.5,911.8 L1369.5,912.2 L1371.5,912.5 L1373.5,912.9 L1375.5,913.2 L1377.5,913.6 L1379.5,914.0 L1381.5,914.3 L1383.5,914.7 L1385.5,915.0 L1387.5,915.4 L1389.5,915.7 L1391.5,916.1 L1393.5,916.5 L1395.5,916.8 L1397.5,917.2 L1399.5,917.5 L1401.5,917.9 L1403.5,918.3 L1405.5,918.6 L1406.5,918.8" stroke="#ff0000"/>
<path d="M79.5,132.4 L81.5,131.3 L83.5,130.4 L85.5,129.6 L87.5,128.8 L89.5,128.1 L91.5,127.6 L93.5,127.1 L95.5,126.7 L97.5,126.4 L99.5,126.2 L101.5,126.0 L103.5,126.0 L105.5,126.0 L107.5,126.1 L109.5,126.3 L111.5,126.5 L113.5,126.9 L115.5,127.3 L117.5,127.8 L119.5,128.3 L121.5,129.0 L123.5,129.7 L125.5,130.4 L127.5,131.3 L129.5,132.2 L131.5,133.2 L133.5,134.2 L135.5,135.3 L137.5,136.4 L139.5,137.7 L141.5,138.9 L143.5,140.3 L145.5,141.7 L147.5,143.1 L149.5,144.6 L151.5,146.2 L153.5,147.8 L155.5,149.5 L157.5,151.2 L159.5,152.9 L161.5,154.7 L163.5,156.6 L165.5,158.5 L167.5,160.4 L169.5,162.4 L171.5,164.4 L173.5,166.5 L175.5,168.6 L177.5,170.7 L179.5,172.9 L181.5,175.1 L183.5,177.3 L185.5,179.6 L187.5,181.9 L189.5,184.2 L191.5,186.5 L193.5,188.9 L195.5,191.3 L197.5,193.8 L199.5,196.2 L201.5,198.7 L203.5,201.2 L205.5,203.8 L207.5,206.4 L209.5,208.9 L211.5,211.6 L213.5,214.2 L215.5,216.8 L217.5,219.5 L219.5,222.2 L221.5,224.9 L223.5,227.6 L225.5,230.4 L227.5,233.2 L229.5,235.9 L231.5,238.7 L233.5,241.5 L235.5,244.4 L237.5,247.2 L239.5,250.1 L241.5,252.9 L243.5,255.8 L245.5,258.7 L247.5,261.6 L249.5,264.5 L251.5,267.4 L253.5,270.3 L255.5,273.3 L257.5,276.2 L259.5,279.1 L261.5,282.1 L263.5,285.1 L265.5,288.0 L267.5,291.0 L269.5,293.9 L271.5,296.9 L273.5,299.9 L275.5,302.9 L277.5,305.8 L279.5,308.8 L281.5,311.8 L283.5,314.8 L285.5,317.8 L287.5,320.8 L289.5,323.7 L291.5,326.7 L293.5,329.7 L295.5,332.7 L297.5,335.7 L299.5,338.7 L301.5,341.6 L303.5,344.6 L305.5,347.6 L307.5,350.6 L309.5,353.6 L311.5,356.5 L313.5,359.5 L315.5,362.5 L317.5,365.4 L319.5,368.4 L321.5,371.3 L323.5,374.3 L325.5,377.2 L327.5,380.2 L329.5,383.1 L331.5,386.0 L333.5,389.0 L335.5,391.9 L337.5,394.8 L339.5,397.7 L341.5,400.6 L343.5,403.5 L345.5,406.4 L347.5,409.3 L349.5,412.1 L351.5,415.0 L353.5,417.8 L355.5,420.7 L357.5,423.5 L359.5,426.4 L361.5,429.2 L363.5,432.0 L365.5,434.8 L367.5,437.6 L369.5,440.3 L371.5,443.1 L373.5,445.9 L375.5,448.6 L377.5,451.3 L379.5,454.1 L381.5,456.8 L383.5,459.5 L385.5,462.1 L387.5,464.8 L389.5,467.5 L391.5,470.1 L393.5,472.8 L395.5,475.4 L397.5,478.0 L399.5,480.7 L401.5,483.3 L403.5,485.8 L405.5,488.4 L407.5,491.0 L409.5,493.5 L411.5,496.1 L413.5,498.6 L415.5,501.1 L417.5,503.7 L419.5,506.2 L421.5,508.7 L423.5,511.1 L425.5,513.6 L427.5,516.1 L429.5,518.5 L431.5,520.9 L433.5,523.4 L435.5,525.8 L437.5,528.2 L439.5,530.6 L441.5,533.0 L443.5,535.3 L445.5,537.7 L447.5,540.1 L449.5,542.4 L451.5,544.7 L453.5,547.0 L455.5,549.4 L457.5,551.7 L459.5,553.9 L461.5,556.2 L463.5,558.5 L465.5,560.7 L467.5,563.0 L469.5,565.2 L471.5,567.4 L473.5,569.7 L475.5,571.9 L477.5,574.1 L479.5,576.2 L481.5,578.4 L483.5,580.6 L485.5,582.7 L487.5,584.9 L489.5,587.0 L491.5,589.1 L493.5,591.2 L495.5,593.3 L497.5,595.4 L499.5,597.5 L501.5,599.5 L503.5,601.6 L505.5,603.7 L507.5,605.7 L509.5,607.7 L511.5,609.7 L513.5,611.7 L515.5,613.7 L517.5,615.7 L519.5,617.7 L521.5,619.7 L523.5,621.6 L525.5,623.6 L527.5,625.5 L529.5,627.4 L531.5,629.3 L533.5,631.2 L535.5,633.1 L537.5,635.0 L539.5,636.9 L541.5,638.8 L543.5,640.6 L545.5,642.4 L547.5,644.3 L549.5,646.1 L551.5,647.9 L553.5,649.7 L555.5,651.5 L557.5,653.3 L559.5,655.1 L561.5,656.8 L563.5,658.6 L565.5,660.3 L567.5,662.1 L569.5,663.8 L571.5,665.5 L573.5,667.2 L575.5,668.9 L577.5,670.6 L579.5,672.3 L581.5,673.9 L583.5,675.6 L585.5,677.2 L587.5,678.9 L589.5,680.5 L591.5,682.1 L593.5,683.7 L595.5,685.3 L597.5,686.9 L599.5,688.5 L601.5,690.0 L603.5,691.6 L605.5,693.1 L607.5,694.7 L609.5,696.2 L611.5,697.7 L613.5,699.2 L615.5,700.7 L617.5,702.2 L619.5,703.7 L621.5,705.2 L623.5,706.6 L625.5,708.1 L627.5,709.5 L629.5,710.9 L631.5,712.4 L633.5,713.8 L635.5,715.2 L637.5,716.6 L639.5,718.0 L641.5,719.3 L643.5,720.7 L645.5,722.1 L647.5,723.4 L649.5,724.8 L651.5,726.1 L653.5,727.4 L655.5,728.7 L657.5,730.0 L659.5,731.3 L661.5,732.6 L663.5,733.9 L665.5,735.2 L667.5,736.4 L669.5,737.7 L671.5,738.9 L673.5,740.2 L675.5,741.4 L677.5,742.6 L679.5,743.8 L681.5,745.0 L683.5,746.2 L685.5,747.4 L687.5,748.6 L689.5,749.8 L691.5,750.9 L693.5,752.1 L695.5,753.2 L697.5,754.4 L699.5,755.5 L701.5,756.6 L703.5,757.8 L705.5,758.9 L707.5,760.0 L709.5,761.1 L711.5,762.1 L713.5,763.2 L715.5,764.3 L717.5,765.4 L719.5,766.4 L721.5,767.5 L723.5,768.5 L725.5,769.5 L727.5,770.6 L729.5,771.6 L731.5,772.6 L733.5,773.6 L735.5,774.6 L737.5,775.6 L739.5,776.6 L741.5,777.6 L743.5,778.6 L745.5,779.5 L747.5,780.5 L749.5,781.4 L751.5,782.4 L753.5,783.3 L755.5,784.3 L757.5,785.2 L759.5,786.1 L761.5,787.0 L763.5,787.9 L765.5,788.8 L767.5,789.7 L769.5,790.6 L771.5,791.5 L773.5,792.4 L775.5,793.3 L777.5,794.1 L779.5,795.0 L781.5,795.8 L783.5,796.7 L785.5,797.5 L787.5,798.4 L789.5,799.2 L791.5,800.0 L793.5,800.8 L795.5,801.6 L797.5,802.5 L799.5,803.3 L801.5,804.1 L803.5,804.8 L805.5,805.6 L807.5,806.4 L809.5,807.2 L811.5,808.0 L813.5,808.7 L815.5,809.5 L817.5,810.2 L819.5,811.0 L821.5,811.7 L823.5,812.5 L825.5,813.2 L827.5,813.9 L829.5,814.7 L831.5,815.4 L833.5,816.1 L835.5,816.8 L837.5,817.5 L839.5,818.2 L841.5,818.9 L843.5,819.6 L845.5,820.3 L847.5,821.0 L849.5,821.7 L851.5,822.3 L853.5,823.0 L855.5,823.7 L857.5,824.3 L859.5,825.0 L861.5,825.7 L863.5,826.3 L865.5,827.0 L867.5,827.6 L869.5,828.2 L871.5,828.9 L873.5,829.5 L875.5,830.1 L877.5,830.8 L879.5,831.4 L881.5,832.0 L883.5,832.6 L885.5,833.2 L887.5,833.8 L889.5,834.4 L891.5,835.0 L893.5,835.6 L895.5,836.2 L897.5,836.8 L899.5,837.4 L901.5,838.0 L903.5,838.6 L905.5,839.1 L907.5,839.7 L909.5,840.3 L911.5,840.8 L913.5,841.4 L915.5,842.0 L917.5,842.5 L919.5,843.1 L921.5,843.6 L923.5,844.2 L925.5,844.7 L927.5,845.3 L929.5,845.8 L931.5,846.4 L933.5,846.9 L935.5,847.4 L937.5,848.0 L939.5,848.5 L941.5,849.0 L943.5,849.6 L945.5,850.1 L947.5,850.6 L949.5,851.1 L951.5,851.6 L953.5,852.1 L955.5,852.6 L957.5,853.1 L959.5,853.6 L961.5,854.1 L963.5,854.6 L965.5,855.1 L967.5,855.6 L969.5,856.1 L971.5,856.6 L973.5,857.1 L975.5,857.5 L977.5,858.0 L979.5,858.5 L981.5,859.0 L983.5,859.4 L985.5,859.9 L987.5,860.4 L989.5,860.8 L991.5,861.3 L993.5,861.8 L995.5,862.2 L997.5,862.7 L999.5,863.1 L1001.5,863.6 L1003.5,864.0 L1005.5,864.4 L1007.5,864.9 L1009.5,865.3 L1011.5,865.8 L1013.5,866.2 L1015.5,866.6 L1017.5,867.1 L1019.5,867.5 L1021.5,867.9 L1023.5,868.3 L1025.5,868.7 L1027.5,869.2 L1029.5,869.6 L1031.5,870.0 L1033.5,870.4 L1035.5,870.8 L1037.5,871.2 L1039.5,871.6 L1041.5,872.0 L1043.5,872.4 L1045.5,872.8 L1047.5,873.2 L1049.5,873.6 L1051.5,874.0 L1053.5,874.4 L1055.5,874.7 L1057.5,875.1 L1059.5,875.5 L1061.5,875.9 L1063.5,876.3 L1065.5,876.6 L1067.5,877.0 L1069.5,877.4 L1071.5,877.7 L1073.5,878.1 L1075.5,878.5 L1077.5,878.8 L1079.5,879.2 L1081.5,879.6 L1083.5,879.9 L1085.5,880.3 L1087.5,880.6 L1089.5,881.0 L1091.5,881.3 L1093.5,881.7 L1095.5,882.0 L1097.5,882.3 L1099.5,882.7 L1101.5,883.0 L1103.5,883.3 L1105.5,883.7 L1107.5,884.0 L1109.5,884.3 L1111.5,884.7 L1113.5,885.0 L1115.5,885.3 L1117.5,885.6 L1119.5,886.0 L1121.5,886.3 L1123.5,886.6 L1125.5,886.9 L1127.5,887.2 L1129.5,887.5 L1131.5,887.8 L1133.5,888.2 L1135.5,888.5 L1137.5,888.8 L1139.5,889.1 L1141.5,889.4 L1143.5,889.7 L1145.5,890.0 L1147.5,890.3 L1149.5,890.6 L1151.5,890.8 L1153.5,891.1 L1155.5,891.4 L1157.5,891.7 L1159.5,892.0 L1161.5,892.3 L1163.5,892.6 L1165.5,892.8 L1167.5,893.1 L1169.5,893.4 L1171.5,893.7 L1173.5,893.9 L1175.5,894.2 L1177.5,894.5 L1179.5,894.8 L1181.5,895.0 L1183.5,895.3 L1185.5,895.6 L1187.5,895.8 L1189.5,896.1 L1191.5,896.3 L1193.5,896.6 L1195.5,896.9 L1197.5,897.1 L1199.5,897.4 L1201.5,897.6 L1203.5,897.9 L1205.5,898.1 L1207.5,898.4 L1209.5,898.6 L1211.5,898.9 L1213.5,899.1 L1215.5,899.4 L1217.5,899.6 L1219.5,899.8 L1221.5,900.1 L1223.5,900.3 L1225.5,900.6 L1227.5,900.8 L1229.5,901.0 L1231.5,901.3 L1233.5,901.5 L1235.5,901.7 L1237.5,901.9 L1239.5,902.2 L1241.5,902.4 L1243.5,902.6 L1245.5,902.8 L1247.5,903.1 L1249.5,903.3 L1251.5,903.5 L1253.5,903.7 L1255.5,904.0 L1257.5,904.2 L1259.5,904.4 L1261.5,904.6 L1263.5,904.8 L1265.5,905.0 L1267.5,905.2 L1269.5,905.4 L1271.5,905.7 L1273.5,905.9 L1275.5,906.1 L1277.5,906.3 L1279.5,906.5 L1281.5,906.7 L1283.5,906.9 L1285.5,907.1 L1287.5,907.3 L1289.5,907.5 L1291.5,907.7 L1293.5,907.9 L1295.5,908.1 L1297.5,908.3 L1299.5,908.5 L1301.5,908.7 L1303.5,908.9 L1305.5,909.1 L1307.5,909.3 L1309.5,909.4 L1311.5,909.6 L1313.5,909.8 L1315.5,910.0 L1317.5,910.2 L1319.5,910.4 L1321.5,910.6 L1323.5,910.8 L1325.5,910.9 L1327.5,911.1 L1329.5,911.3 L1331.5,911.5 L1333.5,911.7 L1335.5,911.8 L1337.5,912.0 L1339.5,912.2 L1341.5,912.4 L1343.5,912.6 L1345.5,912.7 L1347.5,912.9 L1349.5,913.1 L1351.5,913.3 L1353.5,913.4 L1355.5,913.6 L1357.5,913.8 L1359.5,914.0 L1361.5,914.1 L1363.5,914.3 L1365.5,914.5 L1367.5,914.6 L1369.5,914.8 L1371.5,915.0 L1373.5,915.1 L1375.5,915.3 L1377.5,915.5 L1379.5,915.6 L1381.5,915.8 L1383.5,916.0 L1385.5,916.1 L1387.5,916.3 L1389.5,916.5 L1391.5,916.6 L1393.5,916.8 L1395.5,917.0 L1397.5,917.1 L1399.5,917.3 L1401.5,917.4 L1403.5,917.6 L1405.5,917.8 L1406.5,917.8" stroke="#0000ff"/>
</g>
<defs><clipPath id="cp"><rect x="0" y="0" width="1499" height="918"/></clipPath></defs>
<g fill="#800080" clip-path="url(#cp)">
<circle cx="164.9" cy="158.8" r="8.5"/>
<circle cx="248.0" cy="263.0" r="8.5"/>
<circle cx="331.2" cy="386.2" r="8.5"/>
<circle cx="412.4" cy="498.7" r="8.5"/>
<circle cx="496.0" cy="595.5" r="8.5"/>
<circle cx="579.3" cy="672.5" r="8.5"/>
<circle cx="662.3" cy="732.0" r="8.5"/>
<circle cx="743.7" cy="779.2" r="8.5"/>
<circle cx="827.0" cy="813.4" r="8.5"/>
<circle cx="910.0" cy="840.4" r="8.5"/>
<circle cx="993.5" cy="861.7" r="8.5"/>
<circle cx="1075.3" cy="879.4" r="8.5"/>
<circle cx="1158.3" cy="891.2" r="8.5"/>
<circle cx="1241.7" cy="902.5" r="8.5"/>
<circle cx="1324.4" cy="910.6" r="8.5"/>
<circle cx="203.7" cy="166.4" r="8.5"/>
<circle cx="323.9" cy="305.1" r="8.5"/>
<circle cx="443.5" cy="454.6" r="8.5"/>
<circle cx="563.7" cy="580.6" r="8.5"/>
<circle cx="684.7" cy="676.6" r="8.5"/>
<circle cx="803.7" cy="749.6" r="8.5"/>
<circle cx="925.6" cy="804.0" r="8.5"/>
<circle cx="1045.8" cy="844.6" r="8.5"/>
<circle cx="1166.1" cy="875.6" r="8.5"/>
<circle cx="1286.2" cy="898.6" r="8.5"/>
<circle cx="203.7" cy="160.7" r="8.5"/>
<circle cx="323.9" cy="272.5" r="8.5"/>
<circle cx="443.5" cy="401.7" r="8.5"/>
<circle cx="563.7" cy="521.5" r="8.5"/>
<circle cx="684.7" cy="622.2" r="8.5"/>
<circle cx="803.7" cy="703.6" r="8.5"/>
<circle cx="925.6" cy="766.7" r="8.5"/>
<circle cx="1045.8" cy="817.2" r="8.5"/>
<circle cx="1166.1" cy="856.1" r="8.5"/>
<circle cx="1286.2" cy="890.9" r="8.5"/>
<circle cx="203.7" cy="156.5" r="8.5"/>
<circle cx="324.0" cy="222.3" r="8.5"/>
<circle cx="443.5" cy="313.2" r="8.5"/>
<circle cx="563.5" cy="411.1" r="8.5"/>
<circle cx="684.0" cy="506.3" r="8.5"/>
<circle cx="803.7" cy="594.8" r="8.5"/>
<circle cx="925.6" cy="674.4" r="8.5"/>
<circle cx="1045.8" cy="746.3" r="8.5"/>
<circle cx="1166.1" cy="807.9" r="8.5"/>
<circle cx="1286.2" cy="865.7" r="8.5"/>
</g>
<line x1="284.0" y1="252.0" x2="440.3" y2="177.3" stroke="#834646" stroke-width="2.4" stroke-dasharray="15 15.5"/><polygon points="473.7,160.5 433.4,168.2 438.7,173.8 443.6,188.2" fill="#834646"/>
<line x1="401.0" y1="417.5" x2="559.5" y2="317.0" stroke="#834646" stroke-width="2.4" stroke-dasharray="15 15.5"/><polygon points="592.2,297.1 551.6,309.0 557.5,313.8 563.9,327.1" fill="#834646"/>
<line x1="576.7" y1="538.6" x2="772.6" y2="407.8" stroke="#834646" stroke-width="2.4" stroke-dasharray="15 15.5"/><polygon points="804.8,386.7 764.5,400.5 770.6,404.8 777.3,417.3" fill="#834646"/>
<line x1="804.2" y1="643.3" x2="922.4" y2="544.5" stroke="#834646" stroke-width="2.4" stroke-dasharray="15 15.5"/><polygon points="951.7,519.4 913.8,537.0 920.1,541.4 927.9,554.6" fill="#834646"/>
<defs><clipPath id="c4"><rect x="0" y="0" width="1435" height="965"/></clipPath></defs>
<g font-family="Liberation Serif" fill="#000"><text x="402.8" y="134.0" font-size="37" font-weight="bold" font-style="normal" letter-spacing="0.9">water</text><text x="512.5" y="134.0" font-size="37" font-weight="normal" font-style="normal">(</text><text transform="translate(525.5,134.0) scale(1.120,1)" font-size="37" font-weight="bold" font-style="italic">&#x3d5;</text><text x="548.2" y="143.7" font-size="34" font-weight="bold" font-style="normal">1</text><rect x="580.4" y="118.5" width="21.4" height="3.8"/><rect x="580.4" y="128.2" width="21.4" height="3.8"/><text x="616.1" y="134.0" font-size="37" font-weight="bold" font-style="normal" letter-spacing="1.0">0.00,</text><text transform="translate(711.5,134.0) scale(1.120,1)" font-size="37" font-weight="bold" font-style="italic">&#x3d5;</text><text x="735.0" y="143.7" font-size="34" font-weight="bold" font-style="normal">2</text><rect x="766.7" y="118.5" width="21.4" height="3.8"/><rect x="766.7" y="128.2" width="21.4" height="3.8"/><text x="802.6" y="134.0" font-size="37" font-weight="bold" font-style="normal" letter-spacing="0.6">0.0</text><text x="850.3" y="134.0" font-size="37" font-weight="normal" font-style="normal">)</text><text x="513.3" y="246.5" font-size="37" font-weight="bold" font-style="normal">ZnO</text><rect x="597.9" y="235.1" width="21.3" height="3.7"/><text x="630.8" y="246.5" font-size="37" font-weight="bold" font-style="normal" letter-spacing="0.9">water</text><text x="740.2" y="246.5" font-size="37" font-weight="normal" font-style="normal">(</text><text transform="translate(753.2,246.5) scale(1.120,1)" font-size="37" font-weight="bold" font-style="italic">&#x3d5;</text><text x="775.5" y="256.2" font-size="34" font-weight="bold" font-style="normal">1</text><rect x="808.9" y="231.0" width="21.4" height="3.8"/><rect x="808.9" y="240.7" width="21.4" height="3.8"/><text x="845.0" y="246.5" font-size="37" font-weight="bold" font-style="normal" letter-spacing="1.0">0.2,</text><text transform="translate(920.4,246.5) scale(1.120,1)" font-size="37" font-weight="bold" font-style="italic">&#x3d5;</text><text x="944.0" y="256.2" font-size="34" font-weight="bold" font-style="normal">2</text><rect x="975.0" y="231.0" width="21.4" height="3.8"/><rect x="975.0" y="240.7" width="21.4" height="3.8"/><text x="1011.0" y="246.5" font-size="37" font-weight="bold" font-style="normal" letter-spacing="0.6">0.0</text><text x="1059.0" y="246.5" font-size="37" font-weight="normal" font-style="normal">)</text><text x="610.0" y="362.0" font-size="37" font-weight="bold" font-style="normal">ZnO</text><rect x="695.0" y="350.6" width="21.3" height="3.7"/><text x="727.6" y="362.0" font-size="37" font-weight="bold" font-style="normal">CoF</text><text x="794.8" y="371.7" font-size="34" font-weight="bold" font-style="normal">2</text><text x="824.1" y="362.0" font-size="37" font-weight="bold" font-style="italic">O</text><text x="849.7" y="371.7" font-size="34" font-weight="bold" font-style="normal">4</text><rect x="878.7" y="350.6" width="21.3" height="3.7"/><text x="912.5" y="362.0" font-size="37" font-weight="bold" font-style="normal" letter-spacing="0.9">water</text><text x="1022.4" y="362.0" font-size="37" font-weight="normal" font-style="normal">(</text><text transform="translate(1035.4,362.0) scale(1.120,1)" font-size="37" font-weight="bold" font-style="italic">&#x3d5;</text><text x="1057.8" y="371.7" font-size="34" font-weight="bold" font-style="normal">1</text><rect x="1089.4" y="346.5" width="21.4" height="3.8"/><rect x="1089.4" y="356.2" width="21.4" height="3.8"/><text x="1125.5" y="362.0" font-size="37" font-weight="bold" font-style="normal" letter-spacing="1.0">0.1,</text><text transform="translate(1200.9,362.0) scale(1.120,1)" font-size="37" font-weight="bold" font-style="italic">&#x3d5;</text><text x="1224.4" y="371.7" font-size="34" font-weight="bold" font-style="normal">2</text><rect x="1256.6" y="346.5" width="21.4" height="3.8"/><rect x="1256.6" y="356.2" width="21.4" height="3.8"/><text x="1292.9" y="362.0" font-size="37" font-weight="bold" font-style="normal" letter-spacing="0.6">0.1</text><text x="1340.6" y="362.0" font-size="37" font-weight="normal" font-style="normal">)</text><g clip-path="url(#c4)"><text x="779.3" y="487.3" font-size="37" font-weight="bold" font-style="normal">ZnO</text><rect x="864.3" y="475.9" width="21.3" height="3.7"/><text x="896.9" y="487.3" font-size="37" font-weight="bold" font-style="normal">CoF</text><text x="964.1" y="497.0" font-size="34" font-weight="bold" font-style="normal">2</text><text x="993.4" y="487.3" font-size="37" font-weight="bold" font-style="italic">O</text><text x="1019.0" y="497.0" font-size="34" font-weight="bold" font-style="normal">4</text><rect x="1048.0" y="475.9" width="21.3" height="3.7"/><text x="1081.8" y="487.3" font-size="37" font-weight="bold" font-style="normal" letter-spacing="0.9">water</text><text x="1191.7" y="487.3" font-size="37" font-weight="normal" font-style="normal">(</text><text transform="translate(1204.7,487.3) scale(1.120,1)" font-size="37" font-weight="bold" font-style="italic">&#x3d5;</text><text x="1227.1" y="497.0" font-size="34" font-weight="bold" font-style="normal">1</text><rect x="1258.7" y="471.8" width="21.4" height="3.8"/><rect x="1258.7" y="481.5" width="21.4" height="3.8"/><text x="1294.8" y="487.3" font-size="37" font-weight="bold" font-style="normal" letter-spacing="1.0">0.2,</text><text transform="translate(1370.2,487.3) scale(1.120,1)" font-size="37" font-weight="bold" font-style="italic">&#x3d5;</text><text x="1393.7" y="497.0" font-size="34" font-weight="bold" font-style="normal">2</text><rect x="1425.9" y="471.8" width="21.4" height="3.8"/><rect x="1425.9" y="481.5" width="21.4" height="3.8"/></g></g>
</svg>
</body></html>
